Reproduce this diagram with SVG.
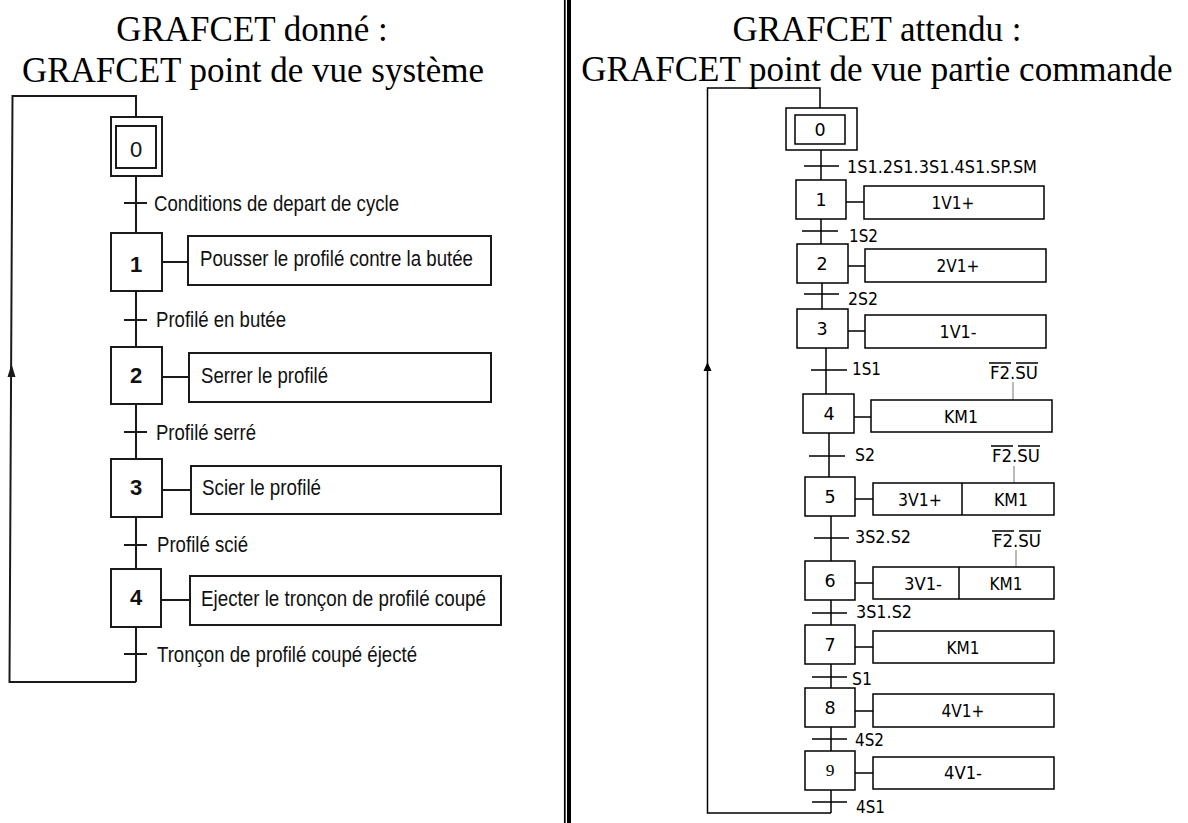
<svg xmlns="http://www.w3.org/2000/svg" width="1188" height="823" viewBox="0 0 1188 823">
<defs>
<style>
.bg{fill:#fff}
.t{font-family:"Liberation Serif","Times New Roman",serif;font-size:35px;fill:#000;text-anchor:middle}
.L{stroke:#1a1a1a;stroke-width:2;fill:none}
.Lb{stroke:#1a1a1a;stroke-width:2;fill:#fff}
.lt{font-family:"Liberation Sans",Arial,sans-serif;font-size:22px;fill:#111}
.ln{font-family:"Liberation Sans",Arial,sans-serif;font-size:22px;fill:#111;text-anchor:middle;font-weight:bold}
.R{stroke:#000;stroke-width:1.5;fill:none}
.Rb{stroke:#000;stroke-width:1.5;fill:#fff}
.rt{font-family:"DejaVu Sans",Verdana,sans-serif;font-size:17.5px;fill:#000}
.rc{font-family:"DejaVu Sans",Verdana,sans-serif;font-size:17.5px;fill:#000;text-anchor:middle}
.g{stroke:#777;stroke-width:1;fill:none}
</style>
</defs>
<rect class="bg" x="0" y="0" width="1188" height="823"/>

<g id="titles">
<text class="t" x="252" y="41">GRAFCET donné :</text>
<text class="t" x="253" y="82">GRAFCET point de vue système</text>
<text class="t" x="877" y="41">GRAFCET attendu :</text>
<text class="t" x="877" y="81">GRAFCET point de vue partie commande</text>
</g>

<g id="separator">
<line x1="564.8" y1="0" x2="564.8" y2="823" stroke="#000" stroke-width="1.7"/>
<line x1="569" y1="0" x2="569" y2="823" stroke="#000" stroke-width="4"/>
</g>

<!-- LEFT GRAFCET -->
<g id="left-connectors">
<path class="L" d="M136,682 H9.5 L12.5,96 H136 V117"/>
<polygon points="11.5,364 7.5,377 15.5,377" fill="#1a1a1a"/>
<path class="L" d="M136,176 V233 M136,291 V347 M136,404 V459 M136,517 V569 M136,627 V682"/>
<path class="L" d="M124,203 H147 M124,320 H147 M124,432 H147 M124,545 H147 M124,654 H147"/>
<path class="L" d="M162,262 H188 M162,377 H189 M162,490 H191 M161,600 H190"/>
</g>
<g id="left-transitions">
<text class="lt" x="154" y="211" textLength="245" lengthAdjust="spacingAndGlyphs">Conditions de depart de cycle</text>
<text class="lt" x="156" y="327" textLength="130" lengthAdjust="spacingAndGlyphs">Profilé en butée</text>
<text class="lt" x="156" y="440" textLength="100" lengthAdjust="spacingAndGlyphs">Profilé serré</text>
<text class="lt" x="157" y="552" textLength="91" lengthAdjust="spacingAndGlyphs">Profilé scié</text>
<text class="lt" x="157" y="662" textLength="260" lengthAdjust="spacingAndGlyphs">Tronçon de profilé coupé éjecté</text>
</g>
<g id="L-step0">
<rect class="Lb" x="111" y="117" width="51" height="59"/>
<rect class="Lb" x="116" y="126" width="40" height="42"/>
<text class="ln" x="136" y="157" style="font-weight:normal">0</text>
</g>
<g id="L-step1">
<rect class="Lb" x="111" y="233" width="51" height="58"/>
<text class="ln" x="136" y="272">1</text>
<rect class="Lb" x="188" y="236" width="303" height="49"/>
<text class="lt" x="200" y="266" textLength="273" lengthAdjust="spacingAndGlyphs">Pousser le profilé contre la butée</text>
</g>
<g id="L-step2">
<rect class="Lb" x="111" y="347" width="51" height="57"/>
<text class="ln" x="136" y="383">2</text>
<rect class="Lb" x="189" y="353" width="302" height="49"/>
<text class="lt" x="201" y="383" textLength="127" lengthAdjust="spacingAndGlyphs">Serrer le profilé</text>
</g>
<g id="L-step3">
<rect class="Lb" x="111" y="459" width="51" height="58"/>
<text class="ln" x="136" y="495">3</text>
<rect class="Lb" x="191" y="466" width="310" height="48"/>
<text class="lt" x="202" y="495" textLength="119" lengthAdjust="spacingAndGlyphs">Scier le profilé</text>
</g>
<g id="L-step4">
<rect class="Lb" x="111" y="569" width="50" height="58"/>
<text class="ln" x="136" y="605">4</text>
<rect class="Lb" x="190" y="576" width="311" height="49"/>
<text class="lt" x="201" y="606" textLength="285" lengthAdjust="spacingAndGlyphs">Ejecter le tronçon de profilé coupé</text>
</g>

<!-- RIGHT GRAFCET -->
<g id="right-connectors">
<path class="R" d="M820,108 V88 H707.5 V813 H831"/>
<polygon points="707.5,362 703.5,371 711.5,371" fill="#000"/>
<path class="R" d="M821,150 V180 M821,219 V244 M822,283 V309 M826,348 V394 M829,433 V477 M831,516 V561 M831,600 V625 M831,664 V688 M831,727 V751 M831,790 V813"/>
<path class="R" d="M804,166 H839 M802,231 H838 M804,294 H839 M811,370 H847 M809,456 H845 M814,538 H849 M812,613 H847 M812,677 H847 M812,739 H847 M812,802 H847"/>
<path class="R" d="M846,202 H864 M848,266 H865 M848,331 H865 M854,417 H871 M855,499 H873 M855,583 H873 M855,647 H873 M855,711 H873 M855,773 H873"/>
<path class="g" d="M1013,382 V400 M1014,466 V483 M1016,550 V567"/>
</g>
<g id="right-transitions">
<text class="rt" x="847" y="173" textLength="190" lengthAdjust="spacingAndGlyphs">1S1.2S1.3S1.4S1.SP.SM</text>
<text class="rt" x="849" y="242" textLength="29" lengthAdjust="spacingAndGlyphs">1S2</text>
<text class="rt" x="848" y="305" textLength="30" lengthAdjust="spacingAndGlyphs">2S2</text>
<text class="rt" x="852" y="375" textLength="29" lengthAdjust="spacingAndGlyphs">1S1</text>
<text class="rt" x="855" y="461" textLength="20" lengthAdjust="spacingAndGlyphs">S2</text>
<text class="rt" x="855" y="543" textLength="56" lengthAdjust="spacingAndGlyphs">3S2.S2</text>
<text class="rt" x="856" y="618" textLength="56" lengthAdjust="spacingAndGlyphs">3S1.S2</text>
<text class="rt" x="852" y="685" textLength="20" lengthAdjust="spacingAndGlyphs">S1</text>
<text class="rt" x="855" y="746" textLength="29" lengthAdjust="spacingAndGlyphs">4S2</text>
<text class="rt" x="856" y="813" textLength="29" lengthAdjust="spacingAndGlyphs">4S1</text>
</g>
<g id="R-step0">
<rect class="Rb" x="786" y="108" width="71" height="42"/>
<rect class="Rb" x="795" y="115" width="50" height="29"/>
<text class="rc" x="820" y="136">0</text>
</g>
<g id="R-step1">
<rect class="Rb" x="796" y="180" width="50" height="39"/>
<text class="rc" x="821" y="206">1</text>
<rect class="Rb" x="864" y="186" width="180" height="33"/>
<text class="rc" x="953" y="209" textLength="43" lengthAdjust="spacingAndGlyphs">1V1+</text>
</g>
<g id="R-step2">
<rect class="Rb" x="797" y="244" width="51" height="39"/>
<text class="rc" x="822" y="270">2</text>
<rect class="Rb" x="865" y="249" width="181" height="33"/>
<text class="rc" x="958" y="272" textLength="43" lengthAdjust="spacingAndGlyphs">2V1+</text>
</g>
<g id="R-step3">
<rect class="Rb" x="797" y="309" width="51" height="39"/>
<text class="rc" x="822" y="335">3</text>
<rect class="Rb" x="865" y="315" width="181" height="33"/>
<text class="rc" x="958" y="338" textLength="37" lengthAdjust="spacingAndGlyphs">1V1-</text>
</g>
<g id="R-step4">
<rect class="Rb" x="803" y="394" width="51" height="39"/>
<text class="rc" x="829" y="420">4</text>
<rect class="Rb" x="871" y="400" width="181" height="32"/>
<text class="rc" x="961" y="423" textLength="34" lengthAdjust="spacingAndGlyphs">KM1</text>
<text class="rt" x="990" y="379" textLength="48" lengthAdjust="spacingAndGlyphs">F2.SU</text>
<path class="R" stroke-width="1" d="M989,363 H1011 M1016,363 H1038"/>
</g>
<g id="R-step5">
<rect class="Rb" x="805" y="477" width="50" height="39"/>
<text class="rc" x="830" y="503">5</text>
<rect class="Rb" x="873" y="483" width="181" height="32"/>
<line class="R" x1="962" y1="483" x2="962" y2="515"/>
<text class="rc" x="920" y="506" textLength="44" lengthAdjust="spacingAndGlyphs">3V1+</text>
<text class="rc" x="1011" y="506" textLength="34" lengthAdjust="spacingAndGlyphs">KM1</text>
<text class="rt" x="992" y="462" textLength="48" lengthAdjust="spacingAndGlyphs">F2.SU</text>
<path class="R" stroke-width="1" d="M991,446 H1013 M1018,446 H1040"/>
</g>
<g id="R-step6">
<rect class="Rb" x="805" y="561" width="50" height="39"/>
<text class="rc" x="830" y="587">6</text>
<rect class="Rb" x="873" y="567" width="181" height="32"/>
<line class="R" x1="959" y1="567" x2="959" y2="599"/>
<text class="rc" x="923" y="590" textLength="38" lengthAdjust="spacingAndGlyphs">3V1-</text>
<text class="rc" x="1006" y="590" textLength="33" lengthAdjust="spacingAndGlyphs">KM1</text>
<text class="rt" x="993" y="547" textLength="48" lengthAdjust="spacingAndGlyphs">F2.SU</text>
<path class="R" stroke-width="1" d="M992,531 H1014 M1019,531 H1041"/>
</g>
<g id="R-step7">
<rect class="Rb" x="805" y="625" width="50" height="39"/>
<text class="rc" x="830" y="651">7</text>
<rect class="Rb" x="873" y="631" width="181" height="32"/>
<text class="rc" x="963" y="654" textLength="33" lengthAdjust="spacingAndGlyphs">KM1</text>
</g>
<g id="R-step8">
<rect class="Rb" x="805" y="688" width="50" height="39"/>
<text class="rc" x="830" y="714">8</text>
<rect class="Rb" x="873" y="694" width="181" height="33"/>
<text class="rc" x="963" y="717" textLength="43" lengthAdjust="spacingAndGlyphs">4V1+</text>
</g>
<g id="R-step9">
<rect class="Rb" x="805" y="751" width="50" height="39"/>
<text class="rc" x="830" y="776" style="font-family:'Liberation Serif','Times New Roman',serif">9</text>
<rect class="Rb" x="873" y="757" width="181" height="32"/>
<text class="rc" x="963" y="779" textLength="38" lengthAdjust="spacingAndGlyphs">4V1-</text>
</g>
</svg>
